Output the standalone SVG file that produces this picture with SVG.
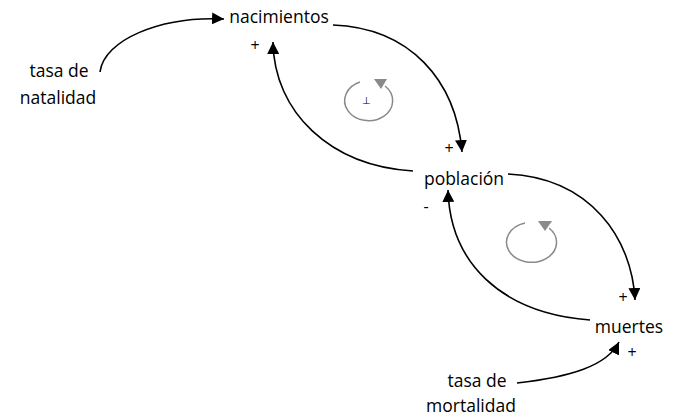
<svg xmlns="http://www.w3.org/2000/svg" width="673" height="417" viewBox="0 0 673 417">
  <style>
    .lbl { font-family: "Open Sans", "Noto Sans", sans-serif; font-size: 17.5px; fill: #000; }
    .sgn { font-family: "Open Sans", "Noto Sans", sans-serif; font-size: 16px; fill: #000; }
    .link { fill: none; stroke: #000; stroke-width: 1.6; }
    .loop { fill: none; stroke: #8a8a8a; stroke-width: 1.5; }
  </style>
  <defs>
    <marker id="arrow" viewBox="0 0 12 12" refX="12" refY="6" markerWidth="12" markerHeight="12" markerUnits="userSpaceOnUse" orient="auto">
      <path d="M0,0 L12,6 L0,12 Z" fill="#000"/>
    </marker>
  </defs>

  <rect width="673" height="417" fill="#fff"/>

  <g id="connectors">
    <path class="link" d="M100,72 C104,40 160,16 224,19" marker-end="url(#arrow)"/>
    <path class="link" d="M333,25 C410,28 456,80 462,152" marker-end="url(#arrow)"/>
    <path class="link" d="M413,171 C330,166 274,112 273,42" marker-end="url(#arrow)"/>
    <path class="link" d="M508,174 C590,178 632,238 635,300" marker-end="url(#arrow)"/>
    <path class="link" d="M590,320 C500,313 450,262 448,190" marker-end="url(#arrow)"/>
    <path class="link" d="M517,383 C570,377 607,366 619,342" marker-end="url(#arrow)"/>
  </g>

  <g id="tasa-natalidad">
    <text class="lbl" x="59" y="77" text-anchor="middle">tasa de</text>
    <text class="lbl" x="58" y="104" text-anchor="middle">natalidad</text>
  </g>

  <g id="nacimientos">
    <text class="lbl" x="279" y="23" text-anchor="middle">nacimientos</text>
    <text class="sgn" x="255" y="51" text-anchor="middle">+</text>
  </g>

  <g id="poblacion">
    <text class="lbl" x="464" y="185" text-anchor="middle">población</text>
    <text class="sgn" x="449" y="154" text-anchor="middle">+</text>
    <text class="sgn" x="426" y="212" text-anchor="middle">-</text>
  </g>

  <g id="muertes">
    <text class="lbl" x="629" y="333" text-anchor="middle">muertes</text>
    <text class="sgn" x="623" y="303" text-anchor="middle">+</text>
    <text class="sgn" x="632" y="358" text-anchor="middle">+</text>
  </g>

  <g id="tasa-mortalidad">
    <text class="lbl" x="477" y="387" text-anchor="middle">tasa de</text>
    <text class="lbl" x="471" y="412" text-anchor="middle">mortalidad</text>
  </g>

  <g id="loop-nacimientos">
    <path class="loop" d="M385,86 A24 20 0 1 1 360,82"/>
    <polygon points="374,79 387,79 381,89" fill="#8a8a8a"/>
    <text x="366" y="104" text-anchor="middle" font-family="Open Sans, sans-serif" font-size="10" fill="#000">⊥</text>
  </g>

  <g id="loop-muertes">
    <path class="loop" d="M549,228 A25 20 0 1 1 525,223"/>
    <polygon points="538,221 552,221 545,231" fill="#8a8a8a"/>
  </g>
</svg>
